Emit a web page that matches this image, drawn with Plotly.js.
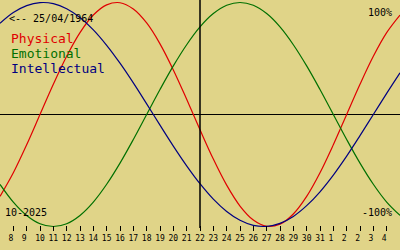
<!DOCTYPE html>
<html>
<head>
<meta charset="utf-8">
<script src="https://cdn.plot.ly/plotly-3.0.1.min.js"></script>
<style>
  html, body { margin: 0; padding: 0; background: #E0D488; }
  #chart { width: 400px; height: 250px; }
</style>
</head>
<body>
<div id="chart"></div>
<script>
// Days of October 2025 shown (values past 31 continue into November)
const days = [7, 8, 9, 10, 11, 12, 13, 14, 15, 16, 17, 18, 19, 20, 21, 22, 23, 24, 25, 26, 27, 28, 29, 30, 31, 32, 33, 34, 35, 36, 37];

// Biorhythm values (-1 .. +1)
const physical = [-0.731, -0.520, -0.270, 0.000, 0.270, 0.520, 0.731, 0.888, 0.979, 0.998, 0.942, 0.817, 0.631, 0.398, 0.136, -0.136, -0.398, -0.631, -0.817, -0.942, -0.998, -0.979, -0.888, -0.731, -0.520, -0.270, 0.000, 0.270, 0.520, 0.731, 0.888];
const emotional = [-0.624, -0.782, -0.901, -0.975, -1.000, -0.975, -0.901, -0.782, -0.623, -0.434, -0.223, 0.000, 0.223, 0.434, 0.623, 0.782, 0.901, 0.975, 1.000, 0.975, 0.901, 0.782, 0.623, 0.434, 0.223, 0.000, -0.223, -0.434, -0.623, -0.782, -0.901];
const intellectual = [0.814, 0.910, 0.972, 0.999, 0.990, 0.945, 0.866, 0.756, 0.618, 0.458, 0.282, 0.095, -0.095, -0.282, -0.458, -0.618, -0.756, -0.866, -0.945, -0.990, -0.999, -0.972, -0.910, -0.814, -0.690, -0.541, -0.372, -0.189, 0.000, 0.189, 0.372];

// Tick days and their labels (as printed in the reference)
const tickDays = [8, 9, 10, 11, 12, 13, 14, 15, 16, 17, 18, 19, 20, 21, 22, 23, 24, 25, 26, 27, 28, 29, 30, 31, 32, 33, 34, 35, 36];
const tickLabels = ["8", "9", "10", "11", "12", "13", "14", "15", "16", "17", "18", "19", "20", "21", "22", "23", "24", "25", "26", "27", "28", "29", "30", "31", "1", "2", "2", "3", "4"];

const seriesNames = ["Physical", "Emotional", "Intellectual"];
const birthLabel = "<-- 25/04/1964";
const monthLabel = "10-2025";
const topLabel = "100%";
const bottomLabel = "-100%";
const todayDay = 22;

const colors = ["#E00000", "#007000", "#000080"];
const bg = "#E0D488";
const mono = "DejaVu Sans Mono";

const seriesValues = [physical, emotional, intellectual];
const traces = seriesValues.map((vals, i) => ({
  type: "scatter",
  mode: "lines",
  x: days,
  y: vals,
  name: seriesNames[i],
  line: { color: colors[i], width: 1.2, shape: "spline", smoothing: 1 },
  hoverinfo: "skip"
}));

const pad = s => (s.length === 1 ? s + "\u00a0" : s);

const annotations = [
  { text: birthLabel, x: 7/400, y: 1 - 18.5/250, size: 10, color: "#000", xanchor: "left" },
  { text: seriesNames[0], x: 9/400, y: 1 - 38.5/250, size: 13, color: colors[0], xanchor: "left" },
  { text: seriesNames[1], x: 9/400, y: 1 - 53.5/250, size: 13, color: colors[1], xanchor: "left" },
  { text: seriesNames[2], x: 9/400, y: 1 - 68.5/250, size: 13, color: colors[2], xanchor: "left" },
  { text: topLabel, x: 394/400, y: 1 - 12.5/250, size: 10, color: "#000", xanchor: "right" },
  { text: bottomLabel, x: 394/400, y: 1 - 212.5/250, size: 10, color: "#000", xanchor: "right" },
  { text: monthLabel, x: 3/400, y: 1 - 212.5/250, size: 10, color: "#000", xanchor: "left" }
].map(a => ({
  text: a.text, x: a.x, y: a.y, xref: "paper", yref: "paper",
  xanchor: a.xanchor, yanchor: "middle", showarrow: false,
  font: { family: mono, size: a.size, color: a.color }
}));

const layout = {
  width: 400,
  height: 250,
  margin: { l: 0, r: 0, t: 0, b: 0, pad: 0 },
  paper_bgcolor: bg,
  plot_bgcolor: bg,
  showlegend: false,
  xaxis: {
    range: [7, 37],
    anchor: "free",
    position: 0.1,
    tickmode: "array",
    tickvals: tickDays,
    ticktext: tickLabels.map(pad),
    ticks: "outside",
    ticklen: 5,
    tickwidth: 1,
    tickcolor: "#000",
    showgrid: false,
    zeroline: false,
    showline: false,
    tickfont: { family: mono, size: 8, color: "#000" },
    fixedrange: true
  },
  yaxis: {
    range: [-1.2098, 1.0223],
    showgrid: false,
    zeroline: true,
    zerolinecolor: "#000",
    zerolinewidth: 1.3,
    showticklabels: false,
    ticks: "",
    fixedrange: true
  },
  shapes: [
    { type: "line", xref: "x", yref: "paper", x0: todayDay, x1: todayDay, y0: 22/250, y1: 1,
      line: { color: "#000", width: 1.5 } }
  ],
  annotations: annotations
};

Plotly.newPlot("chart", traces, layout, { displayModeBar: false, staticPlot: true });
</script>
</body>
</html>
